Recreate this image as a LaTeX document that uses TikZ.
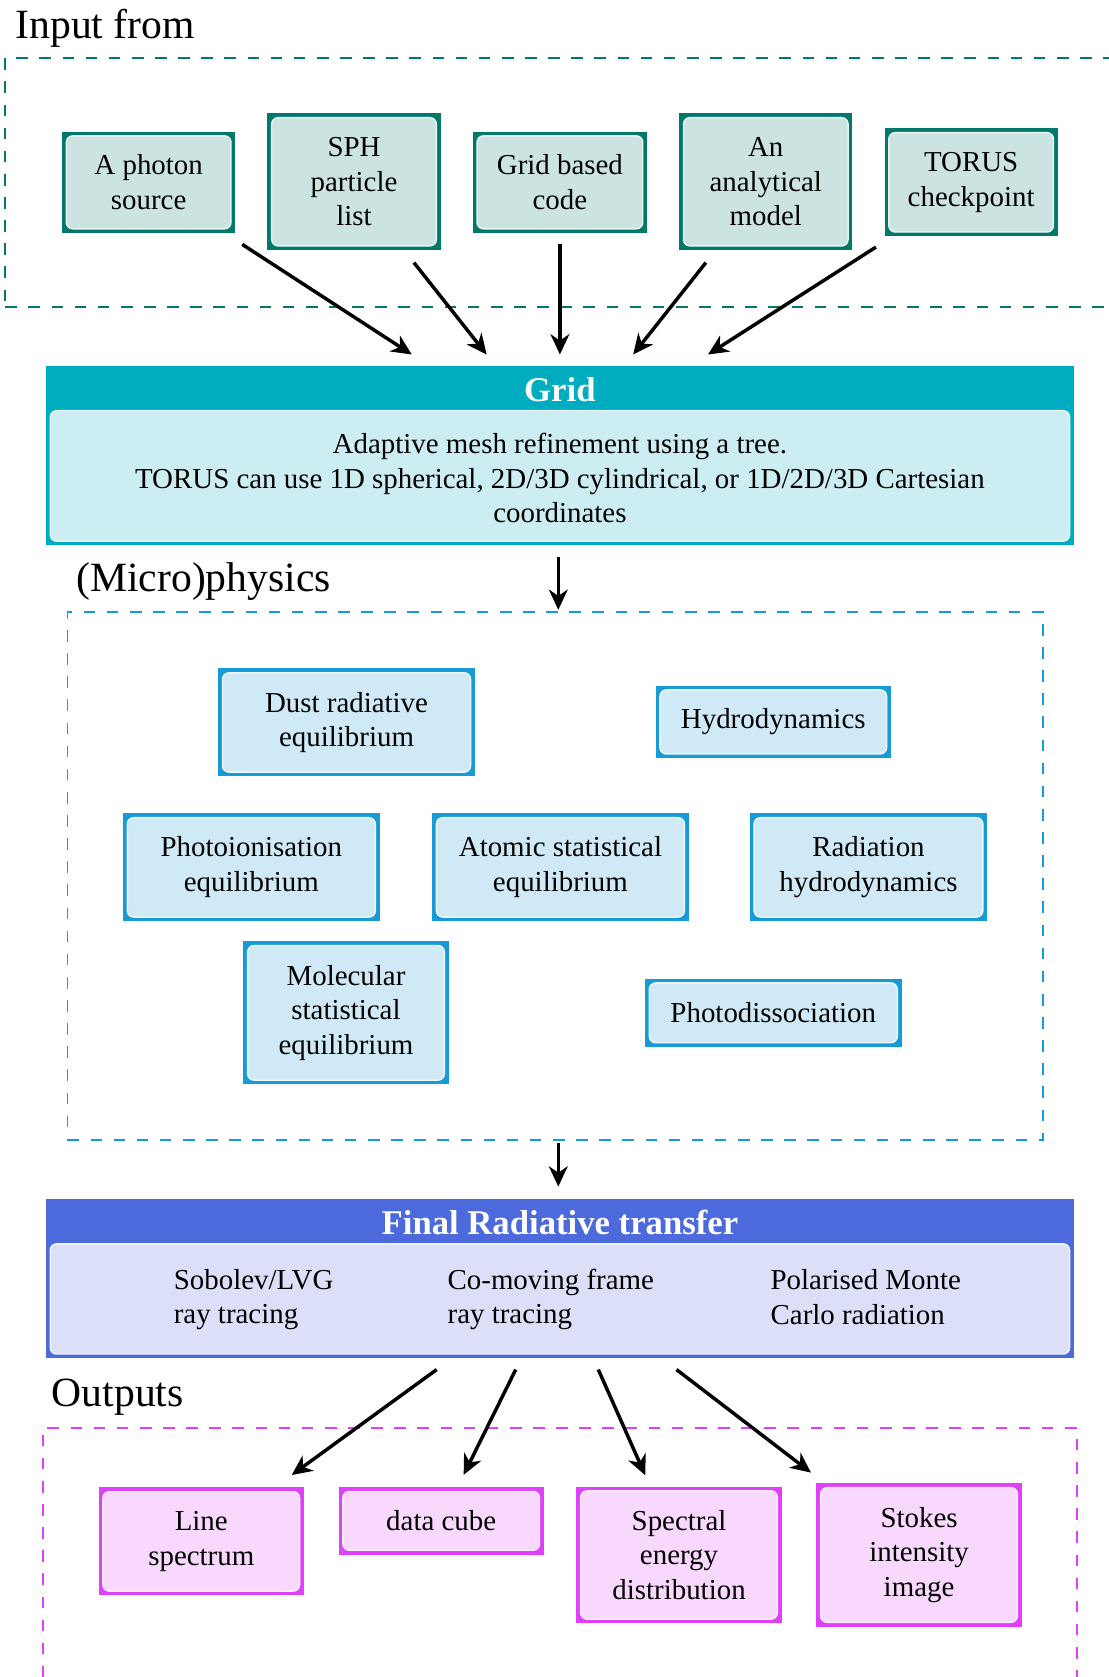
\documentclass[tikz,border=0pt]{standalone}
\usepackage{fontspec}
\setmainfont{Liberation Serif}
\usetikzlibrary{arrows.meta}
\definecolor{inFrame}{RGB}{0,121,107}
\definecolor{inBack}{RGB}{204,228,225}
\definecolor{gridHead}{RGB}{0,172,192}
\definecolor{gridBack}{RGB}{204,237,241}
\definecolor{micFrame}{RGB}{22,155,214}
\definecolor{micBack}{RGB}{207,234,246}
\definecolor{frtHead}{RGB}{77,106,220}
\definecolor{frtBack}{RGB}{219,224,248}
\definecolor{outFrame}{RGB}{224,64,251}
\definecolor{outBack}{RGB}{249,216,254}
\tikzset{
  bw/.style={minimum width=#1*0.37pt},
  bh/.style={minimum height=#1*0.37pt},
  tbox/.style 2 args={fill=#1, inner sep=0pt, align=center, text=black,
    path picture={\fill[#2, draw=#2!40!white, line width=0.5pt, rounded corners=2.2pt]
      ([shift={(1.5pt,-1.5pt)}]path picture bounding box.north west) rectangle
      ([shift={(-1.5pt,1.5pt)}]path picture bounding box.south east);}},
  inbox/.style={tbox={inFrame}{inBack}},
  micbox/.style={tbox={micFrame}{micBack}},
  outbox/.style={tbox={outFrame}{outBack}},
  area/.style={draw=#1, line width=0.6pt, dash pattern=on 4pt off 4pt, inner sep=0pt},
  arr/.style={-{Stealth[length=7pt,width=6.5pt,inset=2.2pt]}, line width=1.2pt, black},
  sect/.style={font=\Large, anchor=base west, inner sep=0pt},
  head/.style={font=\large\bfseries, text=white, inner sep=0pt},
  col/.style={align=left, anchor=west, inner sep=0pt},
}
\begin{document}
\begin{tikzpicture}[x=0.37pt,y=-0.37pt]
\useasboundingbox (0,0) rectangle (1036,1568);

% ---------- areas ----------
\node[area=inFrame, bw=1040, bh=233] (inarea) at (525,170.5) {};
\node[area=micFrame, bw=912, bh=494] (micarea) at (519,819) {};
\node[area=outFrame, bw=967, bh=265] (outarea) at (523.5,1467.5) {};

% ---------- section labels ----------
\node[sect] (lblin) at (14,36) {Input from};
\node[sect] (lblmic) at (71,553) {(Micro)physics};
\node[sect] (lblout) at (48,1315) {Outputs};

% ---------- inputs ----------
\node[inbox, bw=162, bh=95]  (photon) at (139,170.5) {A photon\\source};
\node[inbox, bw=162, bh=128] (sph) at (331,170) {SPH\\particle\\list};
\node[inbox, bw=163, bh=95]  (gridcode) at (523.5,170.5) {Grid based\\code};
\node[inbox, bw=162, bh=128] (analytic) at (716,170) {An\\analytical\\model};
\node[inbox, bw=162, bh=101] (torus) at (908,170.5) {TORUS\\checkpoint};

% ---------- grid ----------
\node[fill=gridHead, inner sep=0pt, bw=961, bh=168] (grid) at (523.5,426) {};
\fill[gridBack, draw=gridBack!40!white, line width=0.5pt, rounded corners=2.2pt]
  (47,384) rectangle (1000,506);
\node[head] (gridtitle) at (523.5,364) {Grid};
\node[align=center, inner sep=0pt] (gridtext) at (523.5,447)
  {Adaptive mesh refinement using a tree.\\TORUS can use 1D spherical, 2D/3D cylindrical, or 1D/2D/3D Cartesian\\coordinates};

% ---------- microphysics ----------
\node[micbox, bw=240, bh=101] (dust) at (324,675.5) {Dust radiative\\equilibrium};
\node[micbox, bw=220, bh=68]  (hydro) at (723,675) {Hydrodynamics};
\node[micbox, bw=240, bh=101] (photoion) at (235,811) {Photoionisation\\equilibrium};
\node[micbox, bw=240, bh=101] (atomic) at (524,811) {Atomic statistical\\equilibrium};
\node[micbox, bw=222, bh=101] (radhydro) at (812,811) {Radiation\\hydrodynamics};
\node[micbox, bw=192, bh=134] (molec) at (323.5,947) {Molecular\\statistical\\equilibrium};
\node[micbox, bw=240, bh=64]  (photodis) at (723,947) {Photodissociation};

% ---------- final radiative transfer ----------
\node[fill=frtHead, inner sep=0pt, bw=961, bh=149] (frt) at (523.5,1195.5) {};
\fill[frtBack, draw=frtBack!40!white, line width=0.5pt, rounded corners=2.2pt]
  (47,1163) rectangle (1000,1266);
\node[head] (frttitle) at (523.5,1143) {Final Radiative transfer};
\node[col] (sobolev) at (162,1215) {Sobolev/LVG\\ray tracing};
\node[col] (comoving) at (418,1215) {Co-moving frame\\ray tracing};
\node[col] (polar) at (720,1212.5) {Polarised Monte\\Carlo radiation};

% ---------- outputs ----------
\node[outbox, bw=192, bh=101] (line) at (188.2,1441.2) {Line\\spectrum};
\node[outbox, bw=192, bh=63]  (cube) at (412.5,1422) {data cube};
\node[outbox, bw=192, bh=128] (sed) at (634.9,1453.9) {Spectral\\energy\\distribution};
\node[outbox, bw=192, bh=134] (stokes) at (859.3,1453.9) {Stokes\\intensity\\image};

% ---------- arrows: inputs -> grid ----------
\draw[arr] ([shift={(6,10)}]photon.south east) -- ([shift={(-138.5,-10)}]grid.north);
\draw[arr] ([shift={(56,11)}]sph.south) -- ([shift={(-68.5,-10)}]grid.north);
\draw[arr] ([shift={(0,10)}]gridcode.south) -- ([shift={(0,-10)}]grid.north);
\draw[arr] ([shift={(-56,11)}]analytic.south) -- ([shift={(68.5,-10)}]grid.north);
\draw[arr] ([shift={(-89,9.5)}]torus.south) -- ([shift={(138.5,-10)}]grid.north);

% ---------- arrows: grid -> micro -> final ----------
\draw[arr] ([shift={(-1.5,10)}]grid.south) -- ([shift={(-1.5,-1)}]grid.south |- micarea.north);
\draw[arr] ([shift={(-1.5,2)}]grid.south |- micarea.south) -- ([shift={(-1.5,-11)}]frt.north);

% ---------- arrows: final -> outputs ----------
\draw[arr] ([shift={(-115.2,10)}]frt.south) -- ([shift={(-12,-11)}]line.north east);
\draw[arr] ([shift={(-41.3,10)}]frt.south) -- ([shift={(21,-11)}]cube.north);
\draw[arr] ([shift={(35.9,10)}]frt.south) -- ([shift={(-31.6,-10)}]sed.north);
\draw[arr] ([shift={(109,10)}]frt.south) -- ([shift={(-4.5,-9.5)}]stokes.north west);
\end{tikzpicture}
\end{document}
